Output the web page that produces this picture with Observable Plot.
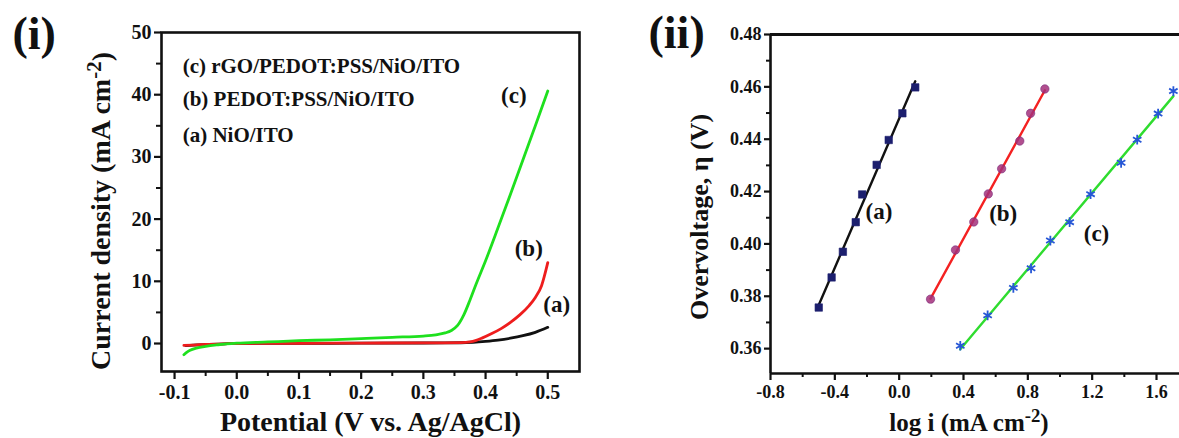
<!DOCTYPE html>
<html>
<head>
<meta charset="utf-8">
<script src="https://cdn.jsdelivr.net/npm/d3@7"></script>
<script src="https://cdn.jsdelivr.net/npm/@observablehq/plot@0.6"></script>
<style>
  html, body { margin: 0; padding: 0; background: #fff; }
  #fig { position: relative; width: 1179px; height: 438px; overflow: hidden; background: #fff; }
  #fig > svg { position: absolute; top: 0; }
</style>
</head>
<body>
<div id="fig"></div>
<script>
// ---- Panel (i): linear sweep voltammetry ----
const lsvPotentialA = [-0.082, -0.07, -0.05, -0.02, 0.0, 0.1, 0.2, 0.3, 0.36, 0.38, 0.40, 0.42, 0.44, 0.46, 0.48, 0.50];
const lsvCurrentA   = [-0.35, -0.25, -0.15, -0.05, 0.0, 0.02, 0.05, 0.08, 0.12, 0.2, 0.35, 0.55, 0.85, 1.25, 1.8, 2.6];

const lsvPotentialB = [-0.085, -0.07, -0.05, -0.02, 0.0, 0.1, 0.2, 0.3, 0.36, 0.375, 0.385, 0.395, 0.41, 0.425, 0.44, 0.455, 0.47, 0.48, 0.49, 0.50];
const lsvCurrentB   = [-0.3, -0.25, -0.15, -0.05, 0.0, 0.03, 0.07, 0.1, 0.15, 0.25, 0.5, 0.9, 1.6, 2.4, 3.4, 4.6, 6.1, 7.4, 9.3, 13.0];

const lsvPotentialC = [-0.085, -0.08, -0.075, -0.065, -0.05, -0.03, 0.0, 0.05, 0.1, 0.15, 0.2, 0.25, 0.3, 0.32, 0.335, 0.345, 0.355, 0.365, 0.375, 0.385, 0.40, 0.42, 0.44, 0.46, 0.48, 0.50];
const lsvCurrentC   = [-1.8, -1.4, -1.1, -0.75, -0.45, -0.2, 0.05, 0.25, 0.45, 0.6, 0.8, 1.0, 1.2, 1.4, 1.7, 2.1, 2.9, 4.6, 7.0, 9.6, 13.3, 18.6, 24.0, 29.5, 35.0, 40.6];

const legendLines = ["(c) rGO/PEDOT:PSS/NiO/ITO", "(b) PEDOT:PSS/NiO/ITO", "(a) NiO/ITO"];
const legendY = [44.6, 39.2, 33.4];

const potentialTicks = [-0.1, 0.0, 0.1, 0.2, 0.3, 0.4, 0.5];
const potentialMinor = [-0.05, 0.05, 0.15, 0.25, 0.35, 0.45];
const currentTicks = [0, 10, 20, 30, 40, 50];
const currentMinor = [5, 15, 25, 35, 45];

// ---- Panel (ii): Tafel plots ----
const tafelLogIA = [-0.50, -0.42, -0.35, -0.27, -0.23, -0.14, -0.065, 0.02, 0.10];
const tafelEtaA  = [0.3757, 0.3872, 0.3970, 0.4083, 0.4189, 0.4302, 0.4397, 0.4499, 0.4598];

const tafelLogIB = [0.195, 0.35, 0.464, 0.554, 0.637, 0.75, 0.817, 0.906];
const tafelEtaB  = [0.3789, 0.3977, 0.4084, 0.4191, 0.4287, 0.4393, 0.4499, 0.4592];

const tafelLogIC = [0.38, 0.55, 0.71, 0.82, 0.94, 1.06, 1.19, 1.38, 1.48, 1.61, 1.705];
const tafelEtaC  = [0.3611, 0.3727, 0.3832, 0.3907, 0.4013, 0.4083, 0.4190, 0.4310, 0.4398, 0.4498, 0.4584];

const logITicks = [-0.8, -0.4, 0.0, 0.4, 0.8, 1.2, 1.6];
const logIMinor = [-0.6, -0.2, 0.2, 0.6, 1.0, 1.4];
const etaTicks = [0.36, 0.38, 0.40, 0.42, 0.44, 0.46, 0.48];
const etaMinor = [0.37, 0.39, 0.41, 0.43, 0.45, 0.47];

const tafelNames = ["(a)", "(b)", "(c)"];
const tafelLabelLogI = [-0.126, 0.647, 1.227];
const tafelLabelEta = [0.4123, 0.4117, 0.4040];

const SERIF = "'Liberation Serif', 'Times New Roman', Times, serif";
const UNIT = "cm^-2";   // written with a raised "-2" after rendering
const zip = (xs, ys, extra) => xs.map((x, i) => ({x, y: ys[i], ...extra}));

const lsvA = zip(lsvPotentialA, lsvCurrentA, {s: "a"});
const lsvB = zip(lsvPotentialB, lsvCurrentB, {s: "b"});
const lsvC = zip(lsvPotentialC, lsvCurrentC, {s: "c"});

const lsvColors = {a: "#111111", b: "#ee1d1d", c: "#1ee01e"};

const fmt1 = d => d.toFixed(1);
const fmt2 = d => d.toFixed(2);
const blank = () => "";
const same = d => d;

const leftPlot = Plot.plot({
  width: 600,
  height: 438,
  marginLeft: 161,
  marginRight: 21,
  marginTop: 32,
  marginBottom: 67,
  style: {fontFamily: SERIF, fontWeight: "bold", color: "#111", background: "transparent", overflow: "visible"},
  x: {domain: [-0.121, 0.551]},
  y: {domain: [-4.5, 50]},
  marks: [
    Plot.axisX(potentialMinor, {tickSize: 5, tickFormat: blank, strokeWidth: 2, label: null}),
    Plot.axisX(potentialTicks, {tickSize: 8, tickPadding: 5, tickFormat: fmt1, fontSize: 20, strokeWidth: 2.2, label: null}),
    Plot.axisY(currentMinor, {tickSize: 5, tickFormat: blank, strokeWidth: 2, label: null}),
    Plot.axisY(currentTicks, {tickSize: 7, tickPadding: 3, tickFormat: d => String(d), fontSize: 20, strokeWidth: 2.2, label: null}),
    Plot.line(lsvA, {x: "x", y: "y", stroke: lsvColors.a, strokeWidth: 2.8, curve: "monotone-x"}),
    Plot.line(lsvB, {x: "x", y: "y", stroke: lsvColors.b, strokeWidth: 2.8, curve: "monotone-x"}),
    Plot.line(lsvC, {x: "x", y: "y", stroke: lsvColors.c, strokeWidth: 2.8, curve: "monotone-x"}),
    Plot.frame({stroke: "#111", strokeWidth: 2.6}),
    // series labels placed beside the last point of each curve
    Plot.text(lsvC, Plot.selectLast({x: "x", y: "y", text: () => "(c)", dx: -34, dy: 5, fontSize: 23})),
    Plot.text(lsvB, Plot.selectLast({x: "x", y: "y", text: () => "(b)", dx: -19, dy: -14, fontSize: 23})),
    Plot.text(lsvA, Plot.selectLast({x: "x", y: "y", text: () => "(a)", dx: 9, dy: -23, fontSize: 23})),
    // legend
    Plot.text(legendLines, {x: () => -0.087, y: (d, i) => legendY[i], text: same, textAnchor: "start", fontSize: 21}),
    // axis titles and panel tag
    Plot.text([`Current density (mA ${UNIT})`], {frameAnchor: "left", textAnchor: "middle", lineAnchor: "middle", dx: -60, dy: 9, rotate: -90, fontSize: 28, text: same}),
    Plot.text(["Potential (V vs. Ag/AgCl)"], {frameAnchor: "bottom", textAnchor: "middle", lineAnchor: "middle", dy: 51, fontSize: 28, text: same}),
    Plot.text(["(i)"], {frameAnchor: "top-left", textAnchor: "start", lineAnchor: "middle", dx: -149, dy: 2, fontSize: 46, text: same})
  ]
});

const tafA = zip(tafelLogIA, tafelEtaA, {s: "a"});
const tafB = zip(tafelLogIB, tafelEtaB, {s: "b"});
const tafC = zip(tafelLogIC, tafelEtaC, {s: "c"});

const xDomR = [-0.8, 1.743];
const yDomR = [0.3505, 0.48];

const rightPlot = Plot.plot({
  width: 579,
  height: 438,
  marginLeft: 170,
  marginRight: 0,
  marginTop: 34,
  marginBottom: 65,
  style: {fontFamily: SERIF, fontWeight: "bold", color: "#111", background: "transparent", overflow: "visible"},
  x: {domain: xDomR},
  y: {domain: yDomR},
  marks: [
    Plot.axisX(logIMinor, {tickSize: 4, tickFormat: blank, strokeWidth: 2, label: null}),
    Plot.axisX(logITicks, {tickSize: 7, tickPadding: 5, tickFormat: fmt1, fontSize: 18, strokeWidth: 2.2, label: null}),
    Plot.axisY(etaMinor, {tickSize: 4, tickFormat: blank, strokeWidth: 2, label: null}),
    Plot.axisY(etaTicks, {tickSize: 6, tickPadding: 3, tickFormat: fmt2, fontSize: 18, strokeWidth: 2.2, label: null}),
    Plot.ruleX([xDomR[0]], {stroke: "#111", strokeWidth: 2.6}),
    Plot.ruleY([yDomR[0]], {stroke: "#111", strokeWidth: 2.6}),
    Plot.ruleY([yDomR[1]], {stroke: "#111", strokeWidth: 3.2}),
    Plot.linearRegressionY(tafA, {x: "x", y: "y", stroke: "#111111", strokeWidth: 2.4, ci: 0}),
    Plot.linearRegressionY(tafB, {x: "x", y: "y", stroke: "#f42121", strokeWidth: 2.4, ci: 0}),
    Plot.linearRegressionY(tafC, {x: "x", y: "y", stroke: "#2fdc2f", strokeWidth: 2.4, ci: 0}),
    Plot.dot(tafA, {x: "x", y: "y", symbol: "square", r: 4.2, fill: "#1c1f6e", stroke: "#1c1f6e", strokeWidth: 0.6}),
    Plot.dot(tafB, {x: "x", y: "y", symbol: "circle", r: 4.2, fill: "#a3307a", fillOpacity: 0.85, stroke: "#7a2a7a", strokeWidth: 0.6}),
    Plot.dot(tafC, {x: "x", y: "y", symbol: "asterisk", r: 4.6, stroke: "#2757d6", strokeWidth: 1.8}),
    Plot.text(tafelNames, {x: (d, i) => tafelLabelLogI[i], y: (d, i) => tafelLabelEta[i], text: same, fontSize: 23}),
    Plot.text(["Overvoltage, \u03B7 (V)"], {frameAnchor: "left", textAnchor: "middle", lineAnchor: "middle", dx: -71, dy: 13, rotate: -90, fontSize: 26, text: same}),
    Plot.text([`log i (mA ${UNIT})`], {frameAnchor: "bottom", textAnchor: "middle", lineAnchor: "middle", dx: -6, dy: 49, fontSize: 25, text: same}),
    Plot.text(["(ii)"], {frameAnchor: "top-left", textAnchor: "start", lineAnchor: "middle", dx: -122, dy: -1, fontSize: 46, text: same})
  ]
});

// Turn "cm^-2" in the unit labels into "cm" with a raised "-2".
function raiseExponent(svg) {
  d3.select(svg).selectAll("text").each(function () {
    const t = this.textContent;
    if (!t.includes(UNIT)) return;
    const [before, after] = t.split(UNIT);
    const sel = d3.select(this).text(null);
    sel.append("tspan").text(before + "cm");
    sel.append("tspan").attr("dy", "-0.45em").attr("font-size", "0.75em").text("-2");
    sel.append("tspan").attr("dy", "0.34em").text(after);
  });
}
raiseExponent(leftPlot);
raiseExponent(rightPlot);

leftPlot.style.left = "0px";
rightPlot.style.left = "600px";
const fig = document.getElementById("fig");
fig.appendChild(leftPlot);
fig.appendChild(rightPlot);
</script>
</body>
</html>
